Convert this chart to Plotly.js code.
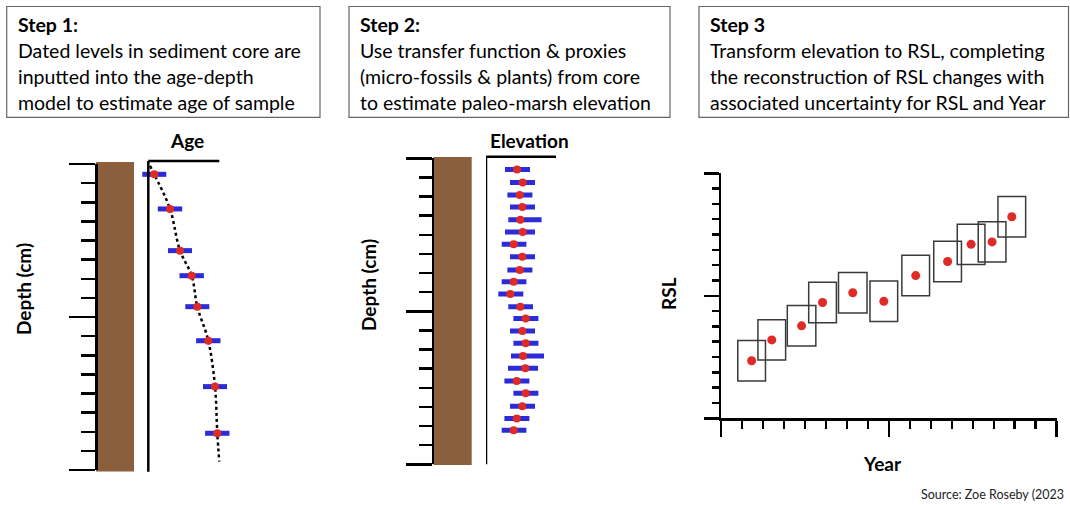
<!DOCTYPE html>
<html><head><meta charset="utf-8">
<script src="https://cdn.plot.ly/plotly-3.0.1.min.js"></script>
<style>html,body{margin:0;padding:0;background:#fff}#chart{width:1070px;height:505px}</style>
</head><body><div id="chart"></div>
<script>
// ---------- Data ----------
// Step 1: age-depth model (age in years, depth in cm)
const ageValues = [60, 217, 317, 434, 490, 600, 667, 690];
const ageDepths = [5.4, 23.5, 45.3, 58.4, 74.6, 92.4, 116.4, 140.8];
const ageErr = [120, 122, 120, 122, 120, 122, 120, 122];
const modelAge = [17, 60, 217, 317, 434, 490, 600, 667, 690, 710];
const modelDepth = [1, 5.4, 23.5, 45.3, 58.4, 74.6, 92.4, 116.4, 140.8, 155.6];

// Step 2: paleo-marsh elevation (cm) vs depth (cm)
const elevValues = [31.0, 36.7, 33.7, 36.3, 34.3, 36.7, 27.7, 36.3, 33.7, 27.7, 24.3,
                    34.3, 39.7, 36.3, 39.7, 37.0, 39.3, 30.7, 39.7, 36.3, 30.7, 27.7];
const elevDepths = [5.8, 12.6, 19.2, 25.5, 32.1, 38.5, 45.0, 51.5, 58.4, 64.5, 71.0,
                    77.6, 83.7, 90.3, 96.7, 103.4, 109.8, 116.4, 122.8, 129.7, 136.0, 142.2];
const elevErrMinus = [12, 12.7, 12.3, 12.3, 12, 17.7, 12, 12.3, 12.3, 12, 12,
                      12, 12.3, 12.3, 12.3, 12, 17.3, 12.3, 12.3, 12.3, 12.3, 12];
const elevErrPlus = [13, 12.3, 12.7, 12.7, 21.3, 12.3, 12.7, 12.7, 12.7, 12.7, 13,
                     12.7, 12.7, 12.7, 12.7, 21, 12.7, 12.7, 12.7, 12.7, 12.7, 12.7];

// Step 3: RSL (m) vs Year
const rslYears = [1273, 1321, 1392, 1442, 1514, 1588, 1664, 1740, 1796, 1846, 1893];
const rslValues = [-3.06, -2.72, -2.49, -2.11, -1.95, -2.09, -1.67, -1.44, -1.16, -1.12, -0.71];
const yearErr = [33, 33, 34, 33, 34, 33, 33, 33, 33, 33, 33];
const rslErr = [0.33, 0.33, 0.33, 0.33, 0.33, 0.33, 0.33, 0.33, 0.33, 0.33, 0.33];

// Text
const stepTitles = ["Step 1:", "Step 2:", "Step 3"];
const stepLines = [
  ["Dated levels in sediment core are", "inputted into the age-depth", "model to estimate age of sample"],
  ["Use transfer function & proxies", "(micro-fossils & plants) from core", "to estimate paleo-marsh elevation"],
  ["Transform elevation to RSL, completing", "the reconstruction of RSL changes with", "associated uncertainty for RSL and Year"]
];
const sourceText = "Source: Zoe Roseby (2023";

// ---------- Layout helpers ----------
const W = 1070, H = 505;
const px = v => v / W;
const py = v => 1 - v / H;
const FONT = "Lato, 'Open Sans', sans-serif";
const RED = '#E02A26', BLUE = '#2B2BD8', BROWN = '#8B5E3C';

const hidden = {showline:false, showgrid:false, zeroline:false, showticklabels:false, ticks:'', fixedrange:true};
function depthAxis(top, bottom, pos, majLen, minLen) {
  return {domain:[py(bottom), py(top)], range:[160, 0], anchor:'free', position:px(pos),
    showline:true, linewidth:2.5, linecolor:'#000', showgrid:false, zeroline:false,
    showticklabels:false, ticks:'outside', ticklen:majLen, tickwidth:2.5, tickcolor:'#000',
    tick0:0, dtick:80,
    minor:{ticks:'outside', ticklen:minLen, tickwidth:2.5, tickcolor:'#000', tick0:0, dtick:10, showgrid:false}};
}

const traces = [
  {x:modelAge, y:modelDepth, xaxis:'x', yaxis:'y', mode:'lines',
   line:{color:'#000', width:2.5, dash:'dot', shape:'spline'}, hoverinfo:'skip', cliponaxis:false},
  {x:ageValues, y:ageDepths, xaxis:'x', yaxis:'y', mode:'markers',
   marker:{color:RED, size:8}, cliponaxis:false,
   error_x:{type:'data', array:ageErr, color:BLUE, thickness:5, width:0}},
  {x:elevValues, y:elevDepths, xaxis:'x2', yaxis:'y2', mode:'markers',
   marker:{color:RED, size:8}, cliponaxis:false,
   error_x:{type:'data', symmetric:false, array:elevErrPlus, arrayminus:elevErrMinus, color:BLUE, thickness:5, width:0}},
  {x:rslYears, y:rslValues, xaxis:'x3', yaxis:'y3', mode:'markers',
   marker:{color:RED, size:9}, cliponaxis:false}
];

const shapes = [];
// text boxes
[[6.7,320],[349,670],[699,1068.5]].forEach(([a,b]) => shapes.push({type:'rect', xref:'paper', yref:'paper',
  x0:px(a), x1:px(b), y0:py(117.3), y1:py(6.5), line:{color:'#666', width:1.2}}));
// cores
shapes.push({type:'rect', xref:'paper', yref:'paper', x0:px(96), x1:px(134), y0:py(471.5), y1:py(162),
  fillcolor:BROWN, line:{width:0}, layer:'below'});
shapes.push({type:'rect', xref:'paper', yref:'paper', x0:px(433.5), x1:px(471.7), y0:py(465), y1:py(157),
  fillcolor:BROWN, line:{width:0}, layer:'below'});
// frames for Age and Elevation panels
shapes.push({type:'line', xref:'x', yref:'paper', x0:0, x1:0, y0:py(471.7), y1:py(161), line:{color:'#000', width:2.5}});
shapes.push({type:'line', xref:'x', yref:'paper', x0:0, x1:710, y0:py(161), y1:py(161), line:{color:'#000', width:2.5}});
shapes.push({type:'line', xref:'x2', yref:'paper', x0:0, x1:0, y0:py(464.3), y1:py(156.7), line:{color:'#000', width:2.5}});
shapes.push({type:'line', xref:'x2', yref:'paper', x0:0, x1:70, y0:py(156.7), y1:py(156.7), line:{color:'#000', width:2.5}});
// uncertainty boxes built from data
rslYears.forEach((yr, i) => shapes.push({type:'rect', xref:'x3', yref:'y3',
  x0:yr - yearErr[i], x1:yr + yearErr[i], y0:rslValues[i] - rslErr[i], y1:rslValues[i] + rslErr[i],
  line:{color:'#3a3a3a', width:1.5}, fillcolor:'rgba(0,0,0,0)'}));

const annotations = [];
const boxLeft = [15.5, 357.5, 707.5];
const lineY = [24.5, 50.5, 76.5, 102.5];
stepTitles.forEach((t, i) => {
  annotations.push({text:'<b>'+t+'</b>', xref:'paper', yref:'paper', x:px(boxLeft[i]), y:py(lineY[0]),
    xanchor:'left', yanchor:'middle', showarrow:false, font:{family:FONT, size:19.5, color:'#000'}});
  stepLines[i].forEach((l, j) => annotations.push({text:l, xref:'paper', yref:'paper', x:px(boxLeft[i]), y:py(lineY[j+1]),
    xanchor:'left', yanchor:'middle', showarrow:false, font:{family:FONT, size:19.5, color:'#000'}}));
});
const lbl = (text, x, y, rot) => ({text:'<b>'+text+'</b>', xref:'paper', yref:'paper', x:px(x), y:py(y),
  xanchor:'center', yanchor:'middle', showarrow:false, textangle:rot||0, font:{family:FONT, size:19, color:'#000'}});
annotations.push(lbl('Age', 187, 140));
annotations.push(lbl('Elevation', 529, 140));
annotations.push(lbl('Depth (cm)', 23, 289, -90));
annotations.push(lbl('Depth (cm)', 368, 285, -90));
annotations.push(lbl('RSL', 668, 294, -90));
annotations.push(lbl('Year', 882, 463));
annotations.push({text:sourceText, xref:'paper', yref:'paper', x:px(1066), y:py(494.5), xanchor:'right', yanchor:'middle',
  showarrow:false, font:{family:FONT, size:12.5, color:'#222'}});

const layout = {
  width:W, height:H, margin:{l:0, r:0, t:0, b:0}, paper_bgcolor:'#fff', plot_bgcolor:'rgba(0,0,0,0)',
  showlegend:false, hovermode:false,
  xaxis:Object.assign({domain:[px(125), px(240)], range:[-233, 917], anchor:'y'}, hidden),
  yaxis:depthAxis(164, 470, 96, 26, 14),
  xaxis2:Object.assign({domain:[px(486), px(580)], range:[0, 94], anchor:'y2'}, hidden),
  yaxis2:depthAxis(158.3, 464.3, 432.7, 25.4, 12.7),
  xaxis3:{domain:[px(721), px(1056.7)], range:[1200, 2000], anchor:'y3', showline:true, linewidth:2.5, linecolor:'#000',
    showgrid:false, zeroline:false, showticklabels:false, ticks:'outside', ticklen:15.7, tickwidth:2.5, tickcolor:'#000',
    tick0:1200, dtick:400, minor:{ticks:'outside', ticklen:8, tickwidth:2.5, tickcolor:'#000', tick0:1200, dtick:50, showgrid:false}},
  yaxis3:{domain:[py(418.3), py(173.3)], range:[-4, 0], anchor:'x3', showline:true, linewidth:2.5, linecolor:'#000',
    showgrid:false, zeroline:false, showticklabels:false, ticks:'outside', ticklen:15, tickwidth:2.5, tickcolor:'#000',
    tick0:-4, dtick:2, minor:{ticks:'outside', ticklen:7, tickwidth:2.5, tickcolor:'#000', tick0:-4, dtick:0.25, showgrid:false}},
  shapes:shapes, annotations:annotations
};
Plotly.newPlot('chart', traces, layout, {staticPlot:true, displayModeBar:false});
</script></body></html>
